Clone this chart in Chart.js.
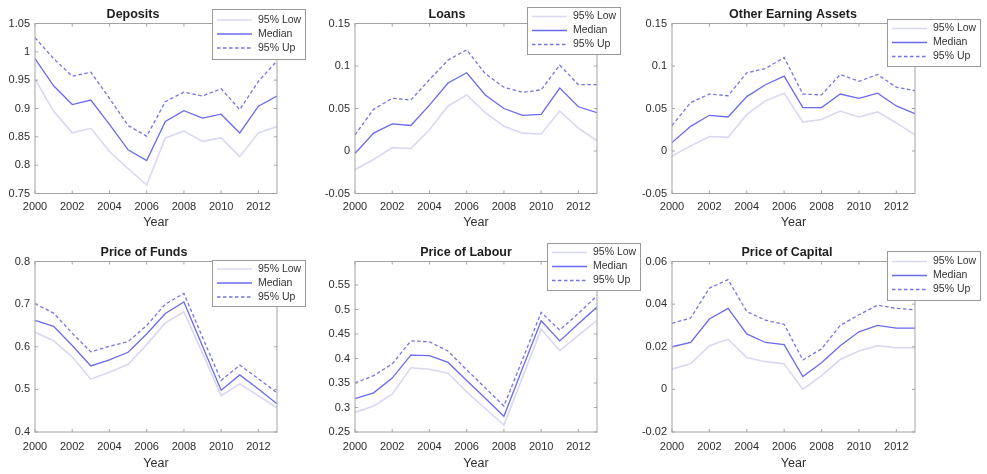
<!DOCTYPE html>
<html><head><meta charset="utf-8">
<script src="https://cdn.jsdelivr.net/npm/chart.js@4"></script>
<style>
html,body{margin:0;padding:0;background:#fff;width:987px;height:474px;overflow:hidden;}
canvas{position:absolute;left:0;top:0;}
</style></head><body>
<div id="wrap"></div>
<script>
// ---------------- DATA ----------------
const years = [2000,2001,2002,2003,2004,2005,2006,2007,2008,2009,2010,2011,2012,2013];
const xTickValues = [2000,2002,2004,2006,2008,2010,2012];
const legendLabels = ['95% Low','Median','95% Up'];
const xTitle = 'Year';

const depositsLow    = [0.952,0.895,0.857,0.865,0.824,0.794,0.765,0.848,0.860,0.842,0.848,0.815,0.857,0.868];
const depositsMedian = [0.988,0.940,0.907,0.915,0.872,0.827,0.808,0.877,0.896,0.883,0.890,0.857,0.904,0.922];
const depositsUp     = [1.025,0.988,0.957,0.964,0.918,0.870,0.851,0.912,0.929,0.922,0.935,0.898,0.948,0.984];
const depositsYTicks = [0.75,0.8,0.85,0.9,0.95,1,1.05];

const loansLow    = [-0.022,-0.010,0.004,0.003,0.025,0.053,0.066,0.045,0.029,0.021,0.020,0.047,0.027,0.012];
const loansMedian = [-0.003,0.021,0.032,0.030,0.054,0.080,0.092,0.066,0.050,0.042,0.043,0.074,0.052,0.045];
const loansUp     = [0.019,0.049,0.062,0.060,0.084,0.107,0.119,0.091,0.075,0.069,0.072,0.101,0.078,0.078];
const loansYTicks = [-0.05,0,0.05,0.1,0.15];

const oeaLow    = [-0.006,0.006,0.017,0.016,0.043,0.059,0.068,0.034,0.037,0.047,0.040,0.046,0.033,0.019];
const oeaMedian = [0.010,0.029,0.042,0.040,0.064,0.078,0.088,0.051,0.051,0.067,0.062,0.068,0.053,0.044];
const oeaUp     = [0.030,0.057,0.067,0.065,0.092,0.097,0.110,0.067,0.066,0.090,0.082,0.090,0.075,0.071];
const oeaYTicks = [-0.05,0,0.05,0.1,0.15];

const fundsLow    = [0.634,0.614,0.576,0.524,0.540,0.559,0.605,0.656,0.682,0.585,0.485,0.513,0.485,0.457];
const fundsMedian = [0.662,0.648,0.603,0.555,0.569,0.587,0.630,0.678,0.705,0.601,0.498,0.534,0.501,0.466];
const fundsUp     = [0.701,0.679,0.632,0.588,0.601,0.612,0.650,0.700,0.725,0.622,0.521,0.557,0.525,0.492];
const fundsYTicks = [0.4,0.5,0.6,0.7,0.8];

const labourLow    = [0.290,0.303,0.327,0.381,0.378,0.370,0.332,0.298,0.264,0.362,0.460,0.416,0.447,0.478];
const labourMedian = [0.318,0.330,0.360,0.407,0.406,0.392,0.355,0.319,0.282,0.380,0.477,0.436,0.471,0.505];
const labourUp     = [0.350,0.365,0.389,0.436,0.434,0.415,0.377,0.340,0.303,0.398,0.494,0.458,0.492,0.528];
const labourYTicks = [0.25,0.3,0.35,0.4,0.45,0.5,0.55];

const capitalLow    = [0.0095,0.012,0.0205,0.0235,0.015,0.013,0.012,0.000,0.0065,0.014,0.018,0.0205,0.0195,0.0195];
const capitalMedian = [0.020,0.022,0.033,0.038,0.026,0.022,0.021,0.006,0.0125,0.0205,0.027,0.030,0.0287,0.0287];
const capitalUp     = [0.031,0.0335,0.0475,0.0515,0.0365,0.0325,0.0305,0.0138,0.019,0.030,0.035,0.0395,0.038,0.0373];
const capitalYTicks = [-0.02,0,0.02,0.04,0.06];

const titles = ['Deposits','Loans','Other Earning Assets','Price of Funds','Price of Labour','Price of Capital'];

// ---------------- LAYOUT / STYLE ----------------
const W = 987, H = 474;
const FONT = '"Liberation Sans", Arial, Helvetica, sans-serif';
const panels = [
  {title:titles[0], low:depositsLow, med:depositsMedian, up:depositsUp, yMin:0.75, yMax:1.05, yTicks:depositsYTicks,
   area:{l:35,t:23.5,r:277,b:193.5}, xPad:6.5, xH:37, tX:133, tY:14.5, leg:{x:212,y:9,h:50}},
  {title:titles[1], low:loansLow, med:loansMedian, up:loansUp, yMin:-0.05, yMax:0.15, yTicks:loansYTicks,
   area:{l:355,t:23.5,r:597,b:193.5}, xPad:6.5, xH:37, tX:447, tY:14.5, leg:{x:527,y:7,h:47}},
  {title:titles[2], low:oeaLow, med:oeaMedian, up:oeaUp, yMin:-0.05, yMax:0.15, yTicks:oeaYTicks,
   area:{l:672,t:23.5,r:915,b:193.5}, xPad:6.5, xH:37, tX:793, tY:14.5, leg:{x:887,y:19,h:47}},
  {title:titles[3], low:fundsLow, med:fundsMedian, up:fundsUp, yMin:0.4, yMax:0.8, yTicks:fundsYTicks,
   area:{l:35,t:261.5,r:277,b:432}, xPad:8, xH:39, tX:144, tY:253, leg:{x:212,y:260,h:46}},
  {title:titles[4], low:labourLow, med:labourMedian, up:labourUp, yMin:0.25, yMax:0.598, yTicks:labourYTicks,
   area:{l:355,t:261.5,r:597,b:432}, xPad:8, xH:39, tX:466, tY:253, leg:{x:547,y:243,h:47}},
  {title:titles[5], low:capitalLow, med:capitalMedian, up:capitalUp, yMin:-0.02, yMax:0.06, yTicks:capitalYTicks,
   area:{l:672,t:261.5,r:915,b:432}, xPad:8, xH:39, tX:787, tY:253, leg:{x:887,y:251,h:49}}
];

const styles = [
  {color:'#d8d9f1', width:1.6, dash:[]},
  {color:'#6a6af0', width:1.3, dash:[]},
  {color:'#7474e2', width:1.3, dash:[3.5,2.5]}
];

const fmt = v => String(+Number(v).toFixed(4));

const boxPlugin = {
  id:'box',
  afterDatasetsDraw(chart, args, o){
    const {ctx, chartArea:a, scales:{x, y}} = chart;
    ctx.save();
    ctx.strokeStyle = '#a3a3a3'; ctx.lineWidth = 1; ctx.setLineDash([]);
    ctx.strokeRect(a.left, a.top, a.right - a.left, a.bottom - a.top);
    ctx.beginPath();
    x.ticks.forEach(t => { const p = x.getPixelForValue(t.value);
      ctx.moveTo(p, a.bottom); ctx.lineTo(p, a.bottom - 3);
      ctx.moveTo(p, a.top); ctx.lineTo(p, a.top + 3); });
    y.ticks.forEach(t => { const p = y.getPixelForValue(t.value);
      ctx.moveTo(a.left, p); ctx.lineTo(a.left + 3, p);
      ctx.moveTo(a.right, p); ctx.lineTo(a.right - 3, p); });
    ctx.stroke();
    // title
    ctx.fillStyle = '#1e1e1e'; ctx.font = 'bold 12.5px ' + FONT;
    ctx.textAlign = 'center'; ctx.textBaseline = 'middle';
    ctx.fillText(o.title, o.tX, o.tY);
    // legend
    const L = o.leg, lw = 93;
    ctx.fillStyle = '#fff'; ctx.fillRect(L.x, L.y, lw, L.h);
    ctx.strokeStyle = '#9a9a9a'; ctx.lineWidth = 1;
    ctx.strokeRect(L.x + 0.5, L.y + 0.5, lw, L.h);
    ctx.font = '10.5px ' + FONT; ctx.textAlign = 'left';
    chart.data.datasets.forEach((ds, i) => {
      const yy = L.y + 10 + i * 14 + (L.h - 48) / 2;
      ctx.strokeStyle = ds.borderColor; ctx.lineWidth = ds.borderWidth;
      ctx.setLineDash(ds.borderDash || []);
      ctx.beginPath(); ctx.moveTo(L.x + 5, yy); ctx.lineTo(L.x + 40, yy); ctx.stroke();
      ctx.setLineDash([]);
      ctx.fillStyle = '#333'; ctx.fillText(ds.label, L.x + 46, yy);
    });
    ctx.restore();
  }
};

const wrap = document.getElementById('wrap');
panels.forEach(p => {
  const c = document.createElement('canvas');
  c.width = W; c.height = H; c.style.width = W + 'px'; c.style.height = H + 'px';
  wrap.appendChild(c);
  const series = [p.low, p.med, p.up];
  new Chart(c.getContext('2d'), {
    type:'line',
    data:{ datasets: series.map((arr, i) => ({
      label: legendLabels[i],
      data: years.map((yr, k) => ({x: yr, y: arr[k]})),
      borderColor: styles[i].color, borderWidth: styles[i].width, borderDash: styles[i].dash,
      pointRadius: 0, tension: 0, fill: false
    }))},
    plugins:[boxPlugin],
    options:{
      responsive:false, animation:false, devicePixelRatio:1,
      layout:{padding:{left:0, top:p.area.t, right:W - p.area.r, bottom:H - p.area.b - p.xH}},
      plugins:{legend:{display:false}, tooltip:{enabled:false}, title:{display:false},
        box:{title:p.title, tX:p.tX, tY:p.tY, leg:p.leg}},
      scales:{
        x:{type:'linear', min:years[0], max:years[years.length-1],
          afterBuildTicks: s => { s.ticks = xTickValues.map(v => ({value:v})); },
          afterFit: s => { s.height = p.xH; },
          ticks:{callback: v => String(v), autoSkip:false, maxRotation:0, padding:p.xPad,
            color:'#2e2e2e', font:{family:FONT, size:11}},
          grid:{display:false, drawTicks:false}, border:{display:false},
          title:{display:true, text:xTitle, color:'#2e2e2e', font:{family:FONT, size:12.5}, padding:{top:0, bottom:0}}
        },
        y:{type:'linear', min:p.yMin, max:p.yMax,
          afterBuildTicks: s => { s.ticks = p.yTicks.map(v => ({value:v})); },
          afterFit: s => { s.width = p.area.l; },
          ticks:{callback: v => fmt(v), padding:5, color:'#2e2e2e', font:{family:FONT, size:11}},
          grid:{display:false, drawTicks:false}, border:{display:false}
        }
      }
    }
  });
});
</script>
</body></html>
